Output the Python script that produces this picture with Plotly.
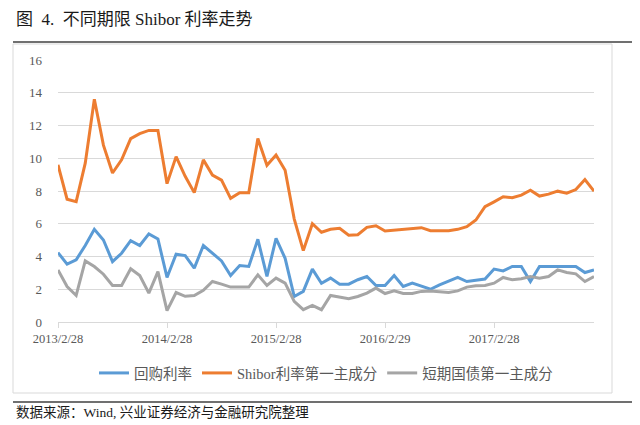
import plotly.graph_objects as go

months = list(range(60))  # monthly, 2013/2 .. 2018/1
tick_idx = [0, 12, 24, 36, 48]
tick_labels = ["2013/2/28", "2014/2/28", "2015/2/28", "2016/2/29", "2017/2/28"]

repo = [4.24, 3.53, 3.8, 4.67, 5.66, 5.01, 3.69, 4.2, 4.97, 4.67, 5.38, 5.07,
        2.72, 4.14, 4.06, 3.29, 4.67, 4.2, 3.73, 2.84, 3.45, 3.39, 5.05, 2.78,
        5.11, 3.89, 1.56, 1.87, 3.23, 2.37, 2.68, 2.31, 2.31, 2.58, 2.78, 2.23,
        2.23, 2.84, 2.17, 2.37, 2.17, 2.0, 2.27, 2.5, 2.72, 2.47, 2.54, 2.62,
        3.23, 3.12, 3.39, 3.39, 2.47, 3.39, 3.39, 3.39, 3.39, 3.39, 3.02, 3.18]

shibor = [9.6, 7.5, 7.35, 9.7, 13.6, 10.8, 9.1, 9.9, 11.2, 11.5, 11.7, 11.7,
          8.45, 10.1, 8.9, 7.9, 9.9, 8.97, 8.66, 7.55, 7.9, 7.9, 11.2, 9.57,
          10.2, 9.27, 6.3, 4.36, 6.0, 5.48, 5.66, 5.72, 5.3, 5.33, 5.78, 5.88,
          5.56, 5.6, 5.68, 5.68, 5.76, 5.58, 5.56, 5.58, 5.66, 5.82, 6.23, 7.04,
          7.34, 7.65, 7.59, 7.75, 8.05, 7.69, 7.81, 7.99, 7.87, 8.09, 8.7, 7.99]

tbill = [3.18, 2.17, 1.62, 3.73, 3.39, 2.92, 2.23, 2.23, 3.25, 2.84, 1.76, 3.08,
         0.69, 1.8, 1.57, 1.62, 1.93, 2.47, 2.31, 2.13, 2.13, 2.13, 2.88, 2.23,
         2.68, 2.37, 1.26, 0.75, 1.01, 0.75, 1.62, 1.52, 1.42, 1.56, 1.76, 2.07,
         1.74, 1.9, 1.74, 1.74, 1.87, 1.9, 1.87, 1.8, 1.9, 2.13, 2.21, 2.23,
         2.37, 2.72, 2.58, 2.64, 2.78, 2.68, 2.78, 3.18, 3.02, 2.94, 2.47, 2.78]

names = ["回购利率", "Shibor利率第一主成分", "短期国债第一主成分"]
colors = ["#5B9BD5", "#ED7D31", "#A5A5A5"]

FONT = "Liberation Serif, Noto Sans CJK SC, serif"

fig = go.Figure()
for ys, nm, c in zip([repo, shibor, tbill], names, colors):
    fig.add_trace(go.Scatter(x=months, y=ys, mode="lines", name=nm,
                             line=dict(color=c, width=3)))

# page body has an 8px margin; work in window pixels and shift
OFF = 8
W, H = 640 - OFF, 425 - OFF
L, R, T, B = 58 - OFF, 594 - OFF, 60 - OFF, 322 - OFF
def px(x):
    return (x - OFF - L) / (R - L)
def py(y):
    return (B - (y - OFF)) / (B - T)

fig.update_layout(
    width=W, height=H,
    margin=dict(l=L, r=W - R, t=T, b=H - B),
    paper_bgcolor="white", plot_bgcolor="white",
    showlegend=True,
    legend=dict(orientation="h", x=0.5, xanchor="center", y=py(373), yanchor="middle",
                font=dict(family=FONT, size=14.5, color="#595959"),
                itemwidth=30, tracegroupgap=0),
    font=dict(family=FONT),
)
fig.update_xaxes(range=[0, 59], tickmode="array", tickvals=tick_idx, ticktext=tick_labels,
                 showgrid=False, showline=True, linecolor="#D9D9D9", linewidth=1,
                 ticks="outside", ticklen=5, tickcolor="#D9D9D9",
                 tickfont=dict(family=FONT, size=12.5, color="#595959"), zeroline=False)
fig.update_yaxes(range=[0, 16], tickvals=[0, 2, 4, 6, 8, 10, 12, 14, 16],
                 showgrid=True, gridcolor="#D9D9D9", gridwidth=1, zeroline=False,
                 showline=False, ticklabelstandoff=15,
                 tickfont=dict(family=FONT, size=13, color="#595959"))

shapes = [
    dict(type="rect", xref="paper", yref="paper", x0=px(13), x1=px(612), y0=py(393), y1=py(44),
         line=dict(color="#D9D9D9", width=1), fillcolor="rgba(0,0,0,0)", layer="below"),
    dict(type="line", xref="paper", yref="paper", x0=px(13), x1=px(632), y0=py(42), y1=py(42),
         line=dict(color="#404040", width=1.5)),
    dict(type="line", xref="paper", yref="paper", x0=px(13), x1=px(632), y0=py(402), y1=py(402),
         line=dict(color="#404040", width=1.5)),
]
fig.update_layout(shapes=shapes)

fig.add_annotation(xref="paper", yref="paper", x=px(14), y=py(20), xanchor="left", yanchor="middle",
                   text="图  4.  不同期限 Shibor 利率走势", showarrow=False,
                   font=dict(family=FONT, size=17, color="#1a1a1a"))
fig.add_annotation(xref="paper", yref="paper", x=px(14), y=py(412), xanchor="left", yanchor="middle",
                   text="数据来源：Wind, 兴业证券经济与金融研究院整理", showarrow=False,
                   font=dict(family=FONT, size=13.5, color="#1a1a1a"))

fig.write_html("out.html")
